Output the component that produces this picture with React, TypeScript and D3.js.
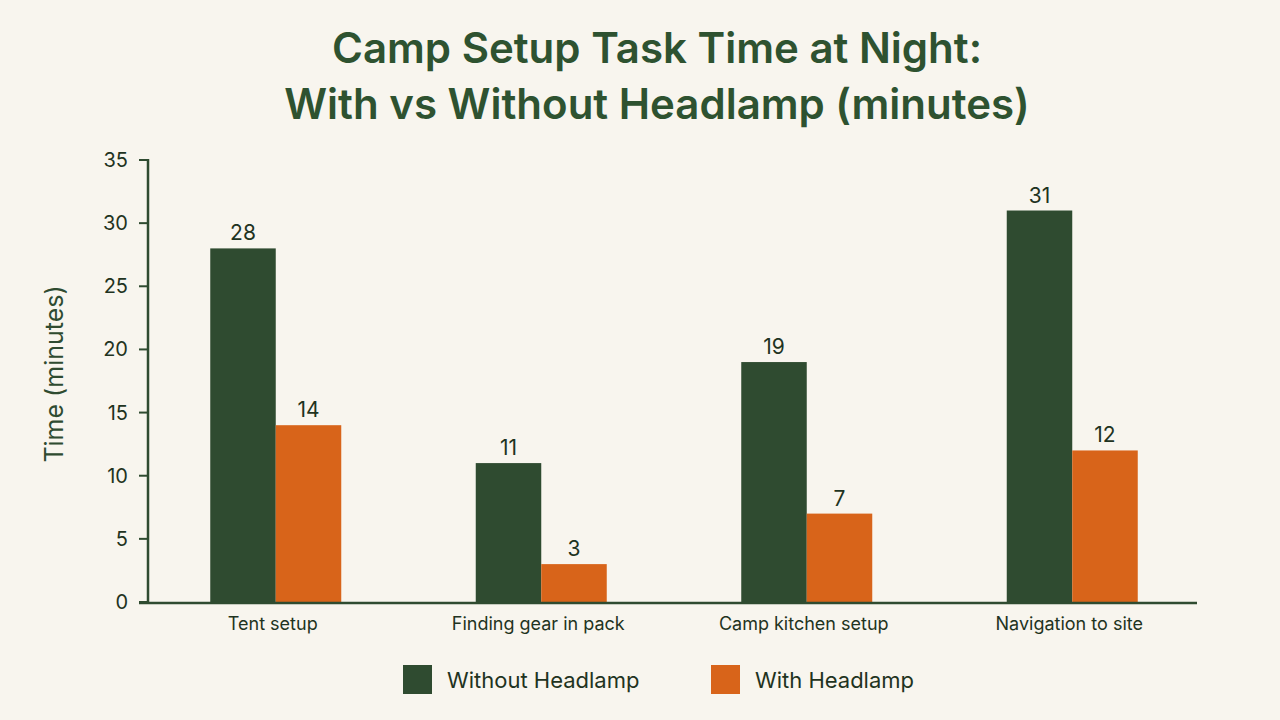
import React from "react";
import * as d3 from "d3";

const categories = ["Tent setup", "Finding gear in pack", "Camp kitchen setup", "Navigation to site"];
const withoutHeadlamp = [28, 11, 19, 31];
const withHeadlamp = [14, 3, 7, 12];
const seriesNames = ["Without Headlamp", "With Headlamp"];
const yTicks = [0, 5, 10, 15, 20, 25, 30, 35];

const W = 1280;
const H = 720;
const BG = "#f8f5ee";
const GREEN = "#2f4b30";
const ORANGE = "#d8641a";
const TEXT = "#1f3321";
const FONT = "'Inter', 'Noto Sans', sans-serif";

export default function App() {
  const x = d3.scaleBand<string>().domain(categories).range([143, 1205]).paddingInner(0).paddingOuter(0);
  const y = d3.scaleLinear().domain([0, 35]).range([602, 160]);
  const barW = 65.5;
  const series = [withoutHeadlamp, withHeadlamp];
  const colors = [GREEN, ORANGE];

  return (
    <svg width={W} height={H} style={{ display: "block", position: "absolute", left: 0, top: 0, background: BG }}>
      <rect x={0} y={0} width={W} height={H} fill={BG} />
      <text x={657} y={63} textAnchor="middle" fontFamily={FONT} fontWeight={600} fontSize={42} fill="#2e5230">
        Camp Setup Task Time at Night:
      </text>
      <text x={657} y={119} textAnchor="middle" fontFamily={FONT} fontWeight={600} fontSize={42} fill="#2e5230">
        With vs Without Headlamp (minutes)
      </text>

      {/* y axis */}
      <line x1={148} x2={148} y1={159} y2={603} stroke={GREEN} strokeWidth={2.5} />
      {yTicks.map((t) => (
        <g key={t}>
          <line x1={139} x2={148} y1={y(t)} y2={y(t)} stroke={GREEN} strokeWidth={2} />
          <text x={128} y={y(t)} dy="0.35em" textAnchor="end" fontFamily={FONT} fontSize={20} fill={TEXT}>
            {t}
          </text>
        </g>
      ))}
      <text
        transform={`translate(63, ${374}) rotate(-90)`}
        textAnchor="middle"
        fontFamily={FONT}
        fontSize={25}
        fill={GREEN}
      >
        Time (minutes)
      </text>

      {/* bars */}
      {categories.map((c, i) => {
        const cx = (x(c) as number) + x.bandwidth() / 2;
        return (
          <g key={c}>
            {series.map((s, j) => {
              const bx = cx - barW + j * barW;
              return (
                <g key={j}>
                  <rect x={bx} y={y(s[i])} width={barW} height={y(0) - y(s[i])} fill={colors[j]} />
                  <text
                    x={bx + barW / 2}
                    y={y(s[i]) - 8}
                    textAnchor="middle"
                    fontFamily={FONT}
                    fontSize={21}
                    fill={TEXT}
                  >
                    {s[i]}
                  </text>
                </g>
              );
            })}
            <text x={cx - 3} y={630} textAnchor="middle" fontFamily={FONT} fontSize={18} fill={TEXT}>
              {c}
            </text>
          </g>
        );
      })}

      {/* x axis */}
      <line x1={139} x2={1197} y1={603} y2={603} stroke={GREEN} strokeWidth={2.5} />

      {/* legend */}
      {seriesNames.map((n, j) => {
        const lx = j === 0 ? 403 : 711;
        return (
          <g key={n}>
            <rect x={lx} y={665} width={29} height={29} fill={colors[j]} />
            <text x={lx + 44} y={688} fontFamily={FONT} fontSize={22} fill={TEXT}>
              {n}
            </text>
          </g>
        );
      })}
    </svg>
  );
}
